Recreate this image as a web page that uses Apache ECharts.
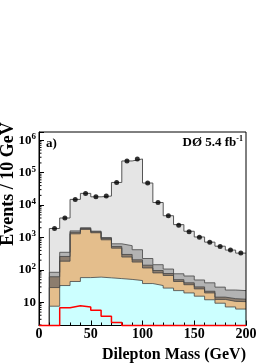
<!DOCTYPE html>
<html><head><meta charset="utf-8">
<script src="https://cdn.jsdelivr.net/npm/echarts@6/dist/echarts.min.js"></script>
<style>html,body{margin:0;padding:0;background:#fff}#c{width:280px;height:363px}</style>
</head><body><div id="c"></div>
<script>
// ---- data ----
const binLow = [10,20,30,40,50,60,70,80,90,100,110,120,130,140,150,160,170,180,190];
const binHigh = 200;
const dataEvents = [1900,4000,15000,23000,18000,19000,50000,230000,265000,48000,12000,4700,2400,1500,1020,710,525,410,330];
// background components (events per bin), stacked bottom to top
const bkgCyan  = [7.6,33,44,58,60,57,54,51,47,38,33,27.5,23,19.5,15.5,12,9.4,7.2,6.2];
const bkgTan   = [21,153,1256,1722,1340,793,416,199,128,77,48,40,21,15.5,10.5,7.5,2.9,3.5,4.3];
const bkgBrown = [33,74,150,120,100,80,60,50,30,25,15,10,6,5,4,2.5,2.2,2.3,2];
const bkgGray  = [23,90,150,100,70,70,110,260,215,85,49,29,26,25,19,18,15,11,10.5];
const bkgZ     = [1815,3650,13400,21000,16430,18000,49360,229400,264600,47780,11860,4590,2420,1495,990,680,510,386,307];
// signal histogram (0..200 GeV, 10 GeV bins)
const sigLow = [0,10,20,30,40,50,60,70,80,90,100,110,120,130,140,150,160,170,180,190];
const sigVal = [0,0,6.8,7.8,7.2,5.7,3.7,2.4,0,0,0,0,0,0,0,0,0,0,0,0];
// axes
const xTicks = [0,50,100,150,200];
const yMin = 1.93, yMax = 1.8e6;
const yMinorMant = [2,3,4,5,6,7,8,9];
const yDecades = [1,10,100,1000,10000,100000];
const yTitle = 'Events / 10 GeV';
const xTitle = 'Dilepton Mass (GeV)';

// ---- build ----
function cum(layers){ const out=[]; let acc=binLow.map(()=>0);
  layers.forEach(l=>{acc=acc.map((a,i)=>a+l[i]); out.push(acc.slice());}); return out; }
const [cCyan,cTan,cBrown,cGray,cTotal] = cum([bkgCyan,bkgTan,bkgBrown,bkgGray,bkgZ]);
function stepData(low, vals, hi, base){
  const d=[[low[0], base]];
  low.forEach((x,i)=>d.push([x, vals[i]]));
  d.push([hi, vals[vals.length-1]]);
  return d;
}
function layer(vals, fill, line, lw){
  return {type:'line', step:'end', symbol:'none', data: stepData(binLow, vals, binHigh, 0.5),
    lineStyle:{color:line, width:lw}, areaStyle:{color:fill, opacity:1, origin:'start'},
    itemStyle:{color:line}, silent:true, animation:false, z:2};
}
const minorTicks=[]; yDecades.forEach(d=>yMinorMant.forEach(m=>{const v=m*d; if(v>yMin&&v<yMax) minorTicks.push([0,v]);}));
const serif = '"Liberation Serif","DejaVu Serif",serif';

const chart = echarts.init(document.getElementById('c'), null, {renderer:'canvas'});
chart.setOption({
  animation:false,
  grid:{left:39, right:34, top:132, bottom:37.5, outerBoundsMode:'none', containLabel:false,
    show:true, borderColor:'#000', borderWidth:1, backgroundColor:'transparent', z:10},
  xAxis:{type:'value', min:0, max:200, interval:50, z:10,
    axisLine:{show:true, lineStyle:{color:'#000', width:1}},
    axisTick:{show:true, inside:true, length:5, lineStyle:{color:'#000'}},
    minorTick:{show:true, splitNumber:5, length:3, lineStyle:{color:'#000'}},
    splitLine:{show:false}, minorSplitLine:{show:false},
    axisLabel:{margin:2, color:'#000', fontFamily:serif, fontWeight:'bold', fontSize:14,
      formatter:v=> xTicks.includes(v)? String(v):''},
    name:xTitle, nameLocation:'middle', nameGap:14,
    nameTextStyle:{color:'#000', fontFamily:serif, fontWeight:'bold', fontSize:16, padding:[0,0,0,63]}
  },
  yAxis:{type:'log', logBase:10, min:yMin, max:yMax, z:10,
    axisLine:{show:true, lineStyle:{color:'#000', width:1}},
    axisTick:{show:true, inside:true, length:5, lineStyle:{color:'#000'}},
    splitLine:{show:false},
    axisLabel:{margin:3, color:'#000',
      formatter:v=>{const l=Math.log10(v), e=Math.round(l); if(Math.abs(l-e)>1e-6) return ''; if(e===1) return '{b|10}'; return '{b|10}{s|'+e+'}';},
      rich:{b:{fontFamily:serif, fontWeight:'bold', fontSize:13, color:'#000', lineHeight:16},
            s:{fontFamily:serif, fontWeight:'bold', fontSize:9, color:'#000', verticalAlign:'top', lineHeight:10}}}
  },
  graphic:[
    {type:'text', x:8, y:184, rotation:Math.PI/2, z:20, silent:true,
      style:{text:yTitle, fill:'#000', font:'bold 18px '+serif, align:'center', verticalAlign:'middle'}},
    {type:'text', left:46, top:137, z:20, style:{text:'a)', fill:'#000', font:'bold 13px '+serif}},
    {type:'text', right:37, top:135, z:20, style:{text:'{b|DØ 5.4 fb}{s|-1}', rich:{
      b:{fontFamily:serif, fontWeight:'bold', fontSize:13, fill:'#000', lineHeight:15},
      s:{fontFamily:serif, fontWeight:'bold', fontSize:8, fill:'#000', verticalAlign:'top', lineHeight:9}}}}
  ],
  series:[
    layer(cTotal, '#e5e5e5', '#555', 1),
    layer(cGray, '#b3b3b3', '#444', 0.8),
    layer(cBrown, '#8c7d6e', '#444', 0.8),
    layer(cTan, '#e4be8c', '#444', 0.8),
    layer(cCyan, '#ccffff', '#444', 0.8),
    {type:'line', step:'end', symbol:'none', clip:false, z:12, silent:true,
      data: stepData(sigLow, sigVal.map(v=>Math.max(v,yMin)), binHigh, yMin),
      lineStyle:{color:'#ff0000', width:1.5}},
    {type:'scatter', symbol:'circle', symbolSize:5, z:13, silent:true,
      data: binLow.map((x,i)=>[x+5, dataEvents[i]]), itemStyle:{color:'#000'}},
    {type:'custom', coordinateSystem:'cartesian2d', z:11, silent:true, clip:false,
      data:minorTicks, encode:{x:0,y:1},
      renderItem:(p,api)=>{const c=api.coord([0, api.value(1)]);
        return {type:'line', shape:{x1:c[0], y1:c[1], x2:c[0]+2.5, y2:c[1]}, style:{stroke:'#000', lineWidth:1}};}}
  ]
});
</script></body></html>
